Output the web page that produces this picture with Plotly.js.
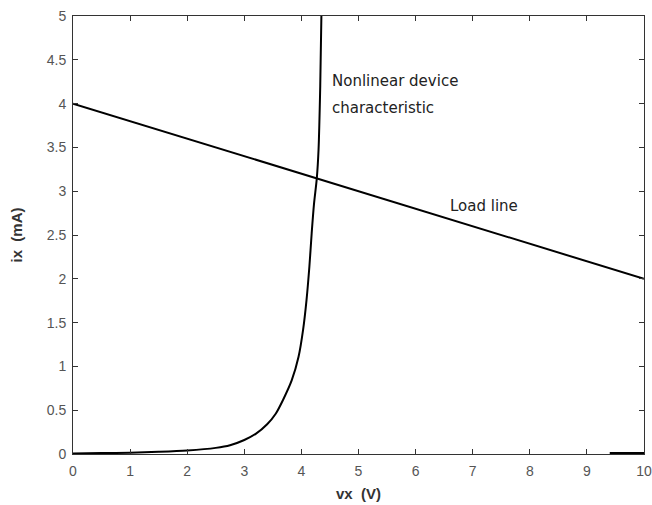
<!DOCTYPE html>
<html>
<head>
<meta charset="utf-8">
<script src="https://cdn.plot.ly/plotly-3.0.1.min.js"></script>
<style>html,body{margin:0;padding:0;background:#fff;}#chart{width:652px;height:505px;}</style>
</head>
<body>
<div id="chart"></div>
<script>
// Nonlinear device characteristic
var deviceV = [0, 0.5, 1, 1.5, 2, 2.5, 2.75, 3.0, 3.2, 3.4, 3.55, 3.68, 3.83, 3.95, 4.03, 4.09, 4.14, 4.18, 4.22, 4.27, 4.30, 4.33, 4.35];
var deviceI = [0.005, 0.01, 0.015, 0.025, 0.04, 0.07, 0.10, 0.16, 0.23, 0.34, 0.46, 0.62, 0.84, 1.11, 1.42, 1.76, 2.14, 2.52, 2.85, 3.15, 3.47, 4.2, 5.0];
// Load line
var loadV = [0, 10];
var loadI = [4, 2];
// short segment at bottom right
var tailV = [9.4, 10];
var tailI = [0.005, 0.005];

var xTicks = [0,1,2,3,4,5,6,7,8,9,10];
var yTicks = [0,0.5,1,1.5,2,2.5,3,3.5,4,4.5,5];

var data = [
  {x: deviceV, y: deviceI, mode:'lines', line: {color:'#000', width:2, shape:'spline', smoothing:0.8}, hoverinfo:'none'},
  {x: loadV, y: loadI, mode:'lines', line: {color:'#000', width:2}, hoverinfo:'none'},
  {x: tailV, y: tailI, mode:'lines', line: {color:'#000', width:3}, hoverinfo:'none'}
];

var axisCommon = {
  showgrid:false, zeroline:false, showline:true, linecolor:'#333', linewidth:1,
  mirror:'ticks', ticks:'inside', ticklen:5, tickwidth:1, tickcolor:'#333',
  tickfont:{family:'Liberation Sans, Arial, sans-serif', size:14, color:'#555'}
};

var layout = {
  width:652, height:505,
  margin:{l:73, r:8, t:16, b:51},
  paper_bgcolor:'#fff', plot_bgcolor:'#fff',
  showlegend:false,
  xaxis: Object.assign({}, axisCommon, {
    range:[0,10], tickvals:xTicks, ticktext:xTicks.map(String), ticklabelstandoff:4,
    title:{text:'<b>vx  (V)</b>', standoff:10, font:{family:'Liberation Sans, Arial, sans-serif', size:15, color:'#333'}}
  }),
  yaxis: Object.assign({}, axisCommon, {
    range:[0,5], tickvals:yTicks, ticktext:yTicks.map(String), ticklabelstandoff:3,
    title:{text:'<b>ix  (mA)</b>', standoff:20, font:{family:'Liberation Sans, Arial, sans-serif', size:15, color:'#333'}}
  }),
  annotations:[
    {x:4.5, y:4.26, xref:'x', yref:'y', xanchor:'left', yanchor:'middle', showarrow:false,
     text:'Nonlinear device', font:{family:'DejaVu Sans, sans-serif', size:15, color:'#222'}},
    {x:4.5, y:3.95, xref:'x', yref:'y', xanchor:'left', yanchor:'middle', showarrow:false,
     text:'characteristic', font:{family:'DejaVu Sans, sans-serif', size:15, color:'#222'}},
    {x:6.57, y:2.83, xref:'x', yref:'y', xanchor:'left', yanchor:'middle', showarrow:false,
     text:'Load line', font:{family:'DejaVu Sans, sans-serif', size:15, color:'#222'}}
  ]
};

Plotly.newPlot('chart', data, layout, {staticPlot:true, displayModeBar:false});
</script>
</body>
</html>
